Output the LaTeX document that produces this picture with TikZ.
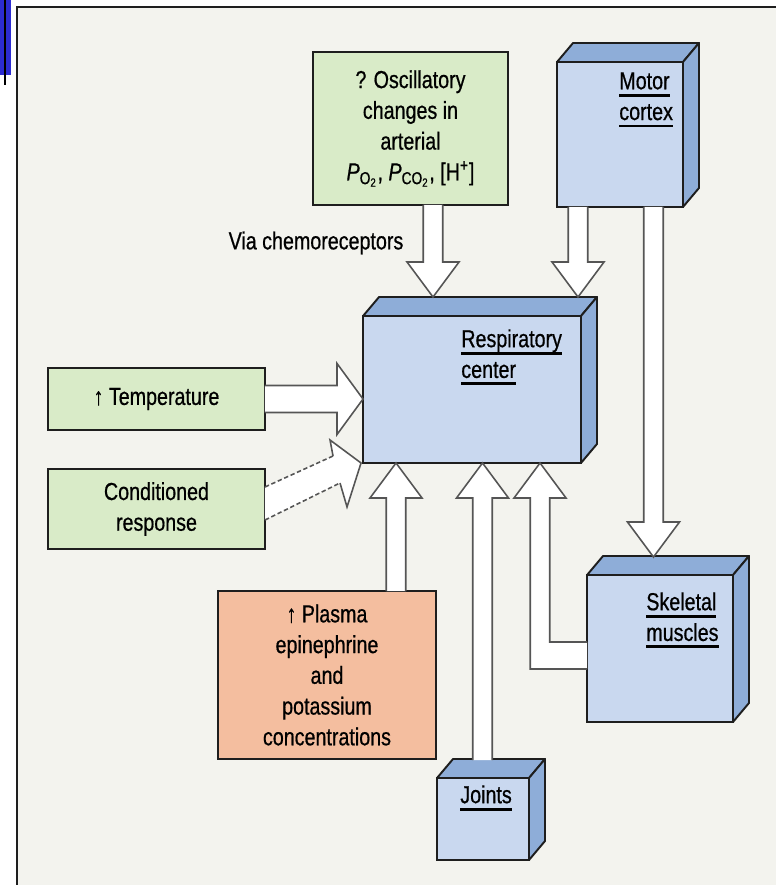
\documentclass[tikz,border=0pt]{standalone}
\usepackage{fontspec}
\setmainfont[FakeStretch=0.8,FakeBold=0.6]{Liberation Sans}
\usetikzlibrary{calc,positioning}

\definecolor{bgpaper}{HTML}{F3F3EE}
\definecolor{edgecol}{HTML}{1E1E1E}
\definecolor{arrowcol}{HTML}{555555}
\definecolor{greenfill}{HTML}{D9EBC8}
\definecolor{bluefront}{HTML}{C9D8EF}
\definecolor{bluedepth}{HTML}{8EADD8}
\definecolor{orangefill}{HTML}{F4BE9F}
\definecolor{barblue}{HTML}{2C2CD2}

% fat arrow sizes
\def\vsw{0.195cm}
\def\vhw{0.52cm}
\def\vhl{0.7cm}

% thick underline for the box titles
\newcommand{\thul}[1]{\setbox0=\hbox{#1}\rlap{\rule[-4.2pt]{\wd0}{1.6pt}}\box0}

% top and side faces of a 3d box
\newcommand{\boxdepth}[1]{%
  \filldraw[depthface] (#1.north west) -- ++(16,-19) -- ($(#1.north east)+(16,-19)$) -- (#1.north east) -- cycle;
  \filldraw[depthface] (#1.north east) -- ++(16,-19) -- ($(#1.south east)+(16,-19)$) -- (#1.south east) -- cycle;}

% vertical fat arrow from #1 to tip #2
\newcommand{\vfat}[2]{%
  \path[fatarr] let \p1=#1, \p2=#2, \n1={ifthenelse(\y2<\y1,1,-1)} in
    (\x1-\vsw,\y1) -- (\x1-\vsw,{\y2+(\n1)*\vhl}) -- (\x1-\vhw,{\y2+(\n1)*\vhl}) -- (\x1,\y2)
    -- (\x1+\vhw,{\y2+(\n1)*\vhl}) -- (\x1+\vsw,{\y2+(\n1)*\vhl}) -- (\x1+\vsw,\y1);}

\begin{document}
\begin{tikzpicture}[
    x=0.02cm, y=-0.02cm,
    every node/.style={font=\fontsize{14}{17.5}\selectfont, text=black},
    plainbox/.style={draw=edgecol, line width=1.1pt, inner sep=0pt, outer sep=0pt, align=center},
    greenbox/.style={plainbox, fill=greenfill},
    bluebox/.style={plainbox, fill=bluefront},
    orangebox/.style={plainbox, fill=orangefill},
    depthface/.style={fill=bluedepth, draw=edgecol, line width=1.1pt, line join=round},
    boxtitle/.style={anchor=north west, align=left, inner sep=0pt},
    fatarr/.style={fill=white, draw=arrowcol, line width=0.9pt, line join=miter}
]
\useasboundingbox (0,0) rectangle (776,885);

% Background and frame
\fill[white] (0,0) rectangle (776,885);
\fill[bgpaper] (17,7) rectangle (776,885);
\draw[edgecol, line width=1.2pt] (17,885) -- (17,7) -- (776,7);
\fill[barblue] (0,0) rectangle (11,75);
\draw[black, line width=1pt] (5,0) -- (5,85);

% Input boxes
\node[greenbox, minimum width=3.9cm, minimum height=3.06cm] (osc) at (410.5,128.5)
  {? Oscillatory\\changes in\\arterial\\{\itshape P}\textsubscript{O\textsubscript{2}}, {\itshape P}\textsubscript{CO\textsubscript{2}}, [H\textsuperscript{+}]};
\node[greenbox, minimum width=4.34cm, minimum height=1.24cm] (temp) at (156.5,399) {↑ Temperature};
\node[greenbox, minimum width=4.34cm, minimum height=1.6cm] (cond) at (156.5,509) {Conditioned\\response};
\node[orangebox, minimum width=4.36cm, minimum height=3.36cm] (plasma) at (327,675)
  {↑ Plasma\\epinephrine\\and\\potassium\\concentrations};

% 3d boxes
\node[bluebox, minimum width=2.52cm, minimum height=2.9cm] (motor) at (620,134.5) {};
\boxdepth{motor}
\node[boxtitle] (motor-lbl) at (619,72) {\thul{Motor}\\\thul{cortex}};

\node[bluebox, minimum width=4.36cm, minimum height=2.94cm] (resp) at (472,389.5) {};
\boxdepth{resp}
\node[boxtitle] (resp-lbl) at (461,329) {\thul{Respiratory}\\\thul{center}};

\node[bluebox, minimum width=2.92cm, minimum height=2.94cm] (skel) at (660,648.5) {};
\boxdepth{skel}
\node[boxtitle] (skel-lbl) at (646,592) {\thul{Skeletal}\\\thul{muscles}};

\node[bluebox, minimum width=1.84cm, minimum height=1.64cm] (joints) at (483,819) {};
\boxdepth{joints}
\node[boxtitle] (joints-lbl) at (460,785) {\thul{Joints}};

\node (chemo) at (316,243) {Via chemoreceptors};

% Arrows into the respiratory center
\vfat{($(osc.south west)+(120,0)$)}{($(resp.north west)+(70,-19)$)}
\vfat{($(motor.south west)+(21,0)$)}{($(resp.north west)+(215,-19)$)}
\vfat{($(motor.south east)+(-29.5,0)$)}{($(skel.north west)+(66.5,-18)$)}
\vfat{($(plasma.north west)+(178,0)$)}{($(resp.south west)+(33,0)$)}
\vfat{($(joints.north west)+(45.5,-18)$)}{($(resp.south west)+(119.5,0)$)}

% temperature
\path[fatarr] let \p1=(temp.east), \p2=(temp.east -| resp.west) in
  (\x1,\y1+0.27cm) -- (\x2-0.52cm,\y1+0.27cm) -- (\x2-0.52cm,\y1+0.71cm) -- (\p2)
  -- (\x2-0.52cm,\y1-0.71cm) -- (\x2-0.52cm,\y1-0.27cm) -- (\x1,\y1-0.27cm);

% conditioned response (dashed)
\coordinate (cr-a) at ($(cond.east)+(0,-22)$);
\coordinate (cr-b) at ($(cond.east)+(0,11)$);
\coordinate (cr-c) at ($(resp.south west)+(-30,-7)$);
\coordinate (cr-d) at ($(resp.south west)+(-33,-23)$);
\coordinate (cr-t) at ($(resp.south west)+(-2,0)$);
\coordinate (cr-e) at ($(resp.south west)+(-16,44)$);
\coordinate (cr-f) at ($(resp.south west)+(-23,20)$);
\fill[white] (cr-a) -- (cr-c) -- (cr-d) -- (cr-t) -- (cr-e) -- (cr-f) -- (cr-b) -- cycle;
\draw[arrowcol, line width=0.9pt, dashed, dash pattern=on 2.5pt off 1.5pt] (cr-a) -- (cr-c) (cr-b) -- (cr-f);
\draw[arrowcol, line width=0.9pt] (cr-c) -- (cr-d) -- (cr-t) -- (cr-e) -- (cr-f);

% skeletal muscles (bent)
\coordinate (sk-a) at ($(skel.south west)+(0,-80)$);
\coordinate (sk-b) at ($(skel.south west)+(0,-53)$);
\coordinate (sk-t) at ($(resp.south west)+(177,0)$);
\path[fatarr] let \p1=(sk-a), \p2=(sk-b), \p3=(sk-t) in
  (\p1) -- (\x3+\vsw,\y1) -- (\x3+\vsw,{\y3-\vhl}) -- (\x3+\vhw,{\y3-\vhl}) -- (\p3)
  -- (\x3-\vhw,{\y3-\vhl}) -- (\x3-\vsw,{\y3-\vhl}) -- (\x3-\vsw,\y2) -- (\p2);

\end{tikzpicture}
\end{document}
